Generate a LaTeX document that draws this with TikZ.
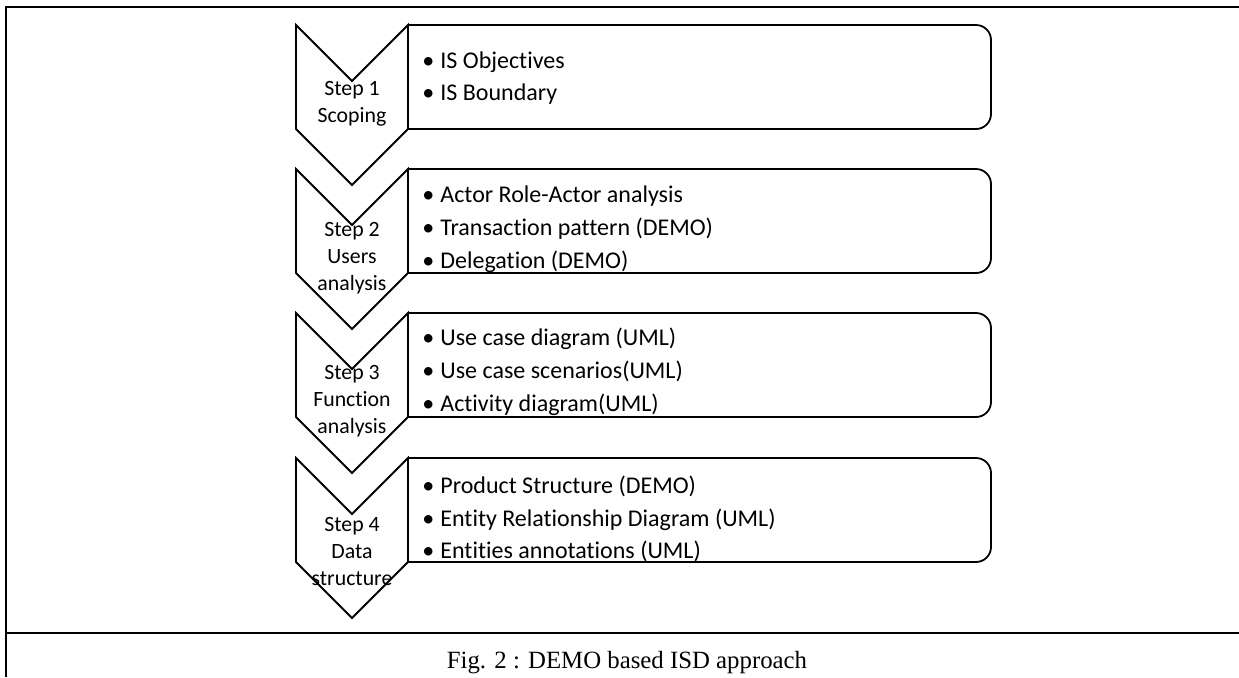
\documentclass[tikz,border=0pt]{standalone}
\usepackage{fontspec}
\setmainfont{Liberation Serif}
\newfontfamily\carlito[Ligatures=NoCommon]{Carlito}
\newcommand{\lstbullet}{\makebox[9pt][l]{\textbullet}}

\begin{document}
\begin{tikzpicture}[
  x=0.5pt, y=-0.5pt,
  frame/.style={line width=1.2pt, black},
  chev/.style={line width=0.9pt, black, line join=miter},
  listbox/.style={line width=0.9pt, black, rounded corners=7.5pt},
  steplbl/.style={align=center, inner sep=0pt,
    font=\carlito\fontsize{10.9}{13.5}\selectfont},
  items/.style={align=left, anchor=west, inner sep=0pt,
    font=\carlito\fontsize{12}{16.4}\selectfont},
  caption/.style={anchor=base, inner sep=0pt,
    font=\fontsize{12.4}{15}\selectfont},
]
  \useasboundingbox (0,0) rectangle (1239,677);

  % frame of the figure
  \draw[frame] (1239,7) -- (6,7) -- (6,677);
  \draw[frame] (6,633) -- (1239,633);

  % chevrons and list boxes
  \foreach \t in {25,169,313,458} {
    \draw[chev] (296,\t) -- (352,\t+56) -- (408,\t) -- (408,\t+104)
      -- (352,\t+160) -- (296,\t+104) -- cycle;
    \draw[listbox] (408,\t) -- (991,\t) -- (991,\t+104) -- (408,\t+104);
  }

  \node[steplbl] (step1) at (352,104) {Step 1\\Scoping};
  \node[steplbl] (step2) at (352,258) {Step 2\\Users\\analysis};
  \node[steplbl] (step3) at (352,401) {Step 3\\Function\\analysis};
  \node[steplbl] (step4) at (352,551) {Step 4\\Data\\structure};

  \node[items] (list1) at (422,78) {\lstbullet IS Objectives\\
    \lstbullet IS Boundary};
  \node[items] (list2) at (422,229) {\lstbullet Actor Role-Actor analysis\\
    \lstbullet Transaction pattern (DEMO)\\
    \lstbullet Delegation (DEMO)};
  \node[items] (list3) at (422,372) {\lstbullet Use case diagram (UML)\\
    \lstbullet Use case scenarios(UML)\\
    \lstbullet Activity diagram(UML)};
  \node[items] (list4) at (422,519) {\lstbullet Product Structure (DEMO)\\
    \lstbullet Entity Relationship Diagram (UML)\\
    \lstbullet Entities annotations (UML)};

  \node[caption] (cap) at (627,668) {Fig. 2 : DEMO based ISD approach};
\end{tikzpicture}
\end{document}
